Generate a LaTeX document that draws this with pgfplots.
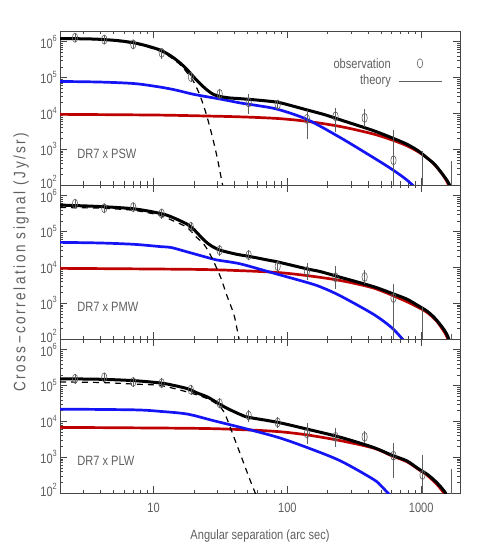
\documentclass[border=0pt]{standalone}
\usepackage{fontspec}
\setmainfont[FakeStretch=0.82]{Liberation Sans}
\usepackage{graphicx}
\usepackage{pgfplots}
\pgfplotsset{compat=1.18}
\definecolor{txtgray}{RGB}{95,95,95}
\definecolor{axgray}{RGB}{70,70,70}
\definecolor{dred}{RGB}{190,0,0}
\definecolor{pblue}{RGB}{20,20,245}
\newcommand\lbl{\fontsize{13.5bp}{15bp}\selectfont}
\newcommand\tp[1]{10\raisebox{0.5em}{\fontsize{9bp}{9bp}\selectfont #1}}
\pgfplotsset{every axis/.append style={
  xmode=log, ymode=log, xmin=2, xmax=1950, ymin=100, ymax=2e6,
  width=400bp, height=154bp, scale only axis,
  axis line style={draw=axgray, line width=0.8bp},
  tick style={axgray, line width=0.6bp},
  major tick length=7bp, minor tick length=3.5bp,
  tick align=inside, xtick pos=both, ytick pos=both,
  xticklabel pos=lower, yticklabel pos=left,
  xtick={10,100,1000},
  minor xtick={2,3,4,5,6,7,8,9,20,30,40,50,60,70,80,90,200,300,400,500,600,700,800,900},
  ytick={100,1000,10000,100000,1000000},
  yticklabels={\raisebox{6bp}{\tp{2}},\tp{3},\tp{4},\tp{5},\tp{6}},
  minor ytick={200,300,400,500,600,700,800,900,2000,3000,4000,5000,6000,7000,8000,9000,20000,30000,40000,50000,60000,70000,80000,90000,200000,300000,400000,500000,600000,700000,800000,900000},
  ticklabel style={font=\lbl, text=txtgray},
  yticklabel style={anchor=east, inner sep=0pt, xshift=-3bp},
  xticklabel style={anchor=north, inner sep=0pt, yshift=-10bp},
}, 
curveblk/.style={black, line width=3bp, smooth, tension=0.5, no markers},
curveblu/.style={pblue, line width=2.7bp, smooth, tension=0.5, no markers},
curverd/.style={dred, line width=2.7bp, smooth, tension=0.5, no markers},
curvedsh/.style={black, line width=1.2bp, dash pattern=on 6bp off 5bp, smooth, tension=0.5, no markers},
curveobs/.style={only marks, mark=o, mark size=4.6bp,
  mark options={xscale=0.58, draw=txtgray, line width=0.6bp, fill=none},
  error bars/y dir=both, error bars/y explicit,
  error bars/error bar style={txtgray, line width=0.6bp},
  error bars/error mark options={txtgray, line width=0.6bp, mark size=3bp}},
}
\begin{document}
\begin{tikzpicture}
\useasboundingbox (-60bp,31bp) rectangle (418bp,-523bp);
% ---------------- Panel 1: PSW
\begin{axis}[at={(0,0)}, anchor=north west, xticklabels={}]
\addplot[curverd] coordinates {(2,9400) (10,9000) (20,8600) (44.7,8000) (84.7,7200) (140,6000) (249,4300) (440,2650) (621,1750) (800,1200) (1000,750) (1200,440) (1400,230) (1550,130) (1620,90)};
\addplot[curveblu] coordinates {(2,78000) (4,75000) (7.2,68000) (11.3,54000) (15,44000) (20,34000) (31.7,25000) (44.7,19500) (60,16500) (84.7,13000) (140,6800) (249,2100) (440,580) (600,280) (760,150) (861,100) (900,85)};
\addplot[curveblk] coordinates {(2,1.23e6) (3,1.21e6) (4,1.17e6) (5.5,1.07e6) (7.2,9.3e5) (9,7.6e5) (11.3,5.8e5) (13.5,4.0e5) (16,2.46e5) (18,1.6e5) (20,1.03e5) (22.5,6.5e4) (25.3,4.4e4) (28,3.4e4) (31.7,2.95e4) (37,2.7e4) (44.7,2.57e4) (60,2.35e4) (84.7,2.04e4) (110,1.6e4) (140,1.25e4) (190,9200) (249,6600) (330,4700) (440,3300) (600,2100) (781,1380) (950,900) (1100,580) (1250,390) (1380,250) (1500,165) (1580,125) (1630,100) (1650,70) (1660,30)};
\addplot[curvedsh] coordinates {(2,1.2e6) (4,1.14e6) (7,9e5) (10,6.4e5) (12,4.8e5) (14,3.3e5) (16,2.2e5) (18,1.3e5) (20,7.5e4) (22,3.5e4) (24,1.4e4) (26,5000) (28,1700) (30,550) (32,160) (33,90)};
\addplot[curveobs] table[x=x, y=y, y error plus=ep, y error minus=em] {
x y ep em
2.59 1.30e6 1.2e5 1.2e5
4.28 1.15e6 1.0e5 1.0e5
7.05 8.5e5 8e4 8e4
11.5 4.9e5 8e4 8e4
19.0 1.05e5 1.5e4 1.5e4
31.2 3.5e4 5e3 5e3
51.4 2.0e4 8e3 8e3
84.7 1.77e4 2e3 2e3
140 7.0e3 3.5e3 4.6e3
229 8.3e3 3.7e3 4.7e3
378 7.5e3 3.2e3 2.4e3
621 490 2300 480
1023 10 720 0
1675 10 370 0
};
\node[font=\lbl, text=txtgray, anchor=west, inner sep=0pt] at (rel axis cs:0.043,0.2) {DR7 x PSW};
\node[font=\lbl, text=txtgray, anchor=east, inner sep=0pt] at (rel axis cs:0.8275,0.79) {observation};
\node[font=\lbl, text=txtgray, anchor=east, inner sep=0pt] at (rel axis cs:0.8275,0.673) {theory};
\draw[txtgray, line width=0.6bp] (rel axis cs:0.9,0.79) ellipse [x radius=2.7bp, y radius=4.6bp];
\draw[txtgray, line width=0.6bp] (rel axis cs:0.8475,0.673) -- (rel axis cs:0.955,0.673);
\end{axis}
% ---------------- Panel 2: PMW
\begin{axis}[at={(0,-154bp)}, anchor=north west, xticklabels={}]
\addplot[curverd] coordinates {(2,9400) (20,8800) (44.7,8100) (84.7,7200) (140,5900) (249,4300) (440,2650) (692,1350) (900,850) (1100,560) (1300,320) (1500,150) (1590,95)};
\addplot[curveblu] coordinates {(2,50000) (4,48000) (7.2,44000) (11.3,38000) (13.5,36000) (17.9,27000) (28,17000) (31.7,15500) (44.7,12500) (74.9,7300) (140,3800) (177,2850) (249,1600) (440,490) (600,210) (724,100) (760,80)};
\addplot[curveblk] coordinates {(2,5.5e5) (4,5.0e5) (7.2,4.3e5) (11.3,3.2e5) (13.5,2.6e5) (17.9,1.6e5) (20,1.15e5) (23.8,5.8e4) (27,4.0e4) (31.7,3.0e4) (42.3,2.3e4) (51,2.05e4) (74.9,1.55e4) (84.7,1.42e4) (140,9100) (177,7600) (249,5300) (440,2900) (600,1900) (781,1300) (950,850) (1100,610) (1250,400) (1380,260) (1500,170) (1570,125) (1600,105) (1615,60)};
\addplot[curvedsh] coordinates {(2,4.7e5) (4,4.5e5) (7.2,3.9e5) (11.3,2.8e5) (14,2.0e5) (17.9,1.3e5) (20.5,7.5e4) (23.8,4.4e4) (27,2.0e4) (31.7,5300) (35,1800) (39.8,490) (42.3,170) (43.5,100) (44,80)};
\addplot[curveobs] table[x=x, y=y, y error plus=ep, y error minus=em] {
x y ep em
2.59 6.0e5 5e4 5e4
4.28 4.5e5 5e4 5e4
7.05 4.8e5 5e4 5e4
11.5 3.2e5 4e4 4e4
19.0 1.35e5 2e4 2e4
31.2 3.0e4 4e3 4e3
51.4 2.2e4 3e3 3e3
84.7 1.08e4 2e3 2e3
140 7.8e3 3.2e3 2.5e3
229 5.3e3 3.8e3 2.2e3
378 5.4e3 1.5e3 1.2e3
621 1400 1500 1390
1023 10 670 0
1675 10 105 0
};
\node[font=\lbl, text=txtgray, anchor=west, inner sep=0pt] at (rel axis cs:0.043,0.21) {DR7 x PMW};
\end{axis}
% ---------------- Panel 3: PLW
\begin{axis}[at={(0,-308bp)}, anchor=north west, xticklabels={10,100,1000},
  xlabel={Angular separation (arc sec)},
  xlabel style={font=\lbl, text=txtgray, at={(axis description cs:0.5,0)}, anchor=north, inner sep=0pt, yshift=-37bp}]
\addplot[curverd] coordinates {(2,6800) (20,6400) (44.7,5900) (84.7,5200) (140,4200) (249,2900) (440,1800) (600,1100) (781,750) (950,460) (1100,320) (1300,180) (1450,110) (1510,90)};
\addplot[curveblu] coordinates {(2,22000) (7.2,21000) (11.3,19000) (17.9,16000) (28,10500) (44.7,6800) (84.7,3600) (140,1870) (249,790) (440,240) (500,160) (564,100) (590,85)};
\addplot[curveblk] coordinates {(2,1.55e5) (4,1.5e5) (7.2,1.37e5) (11.3,1.18e5) (14,1.02e5) (17.9,8.2e4) (21,6.3e4) (25.3,4.8e4) (30,3.3e4) (35.6,2.3e4) (44.7,1.55e4) (51.4,1.3e4) (84.7,9400) (140,6100) (249,3600) (440,1870) (600,1150) (781,790) (950,480) (1100,340) (1250,230) (1380,158) (1480,115) (1520,100) (1535,60)};
\addplot[curvedsh] coordinates {(2,1.26e5) (4,1.22e5) (7.2,1.1e5) (11.3,1.0e5) (17.9,6.6e4) (25.3,4.3e4) (31.7,2.5e4) (35,1.3e4) (40,3500) (45,1100) (50,380) (54,180) (57,110) (58,90)};
\addplot[curveobs] table[x=x, y=y, y error plus=ep, y error minus=em] {
x y ep em
2.59 1.55e5 2e4 2e4
4.28 1.7e5 2e4 2e4
7.05 1.26e5 1.5e4 1.5e4
11.5 1.17e5 1.5e4 1.5e4
19.0 7.7e4 1e4 1e4
31.2 3.2e4 4e3 4e3
51.4 1.45e4 2.5e3 2.5e3
84.7 9.4e3 1.5e3 1.5e3
140 4.6e3 2.6e3 1.7e3
229 3.7e3 1.8e3 1.4e3
378 3.7e3 8e2 6e2
621 1.1e3 9e2 7.8e2
1023 320 630 310
1675 10 380 0
};
\node[font=\lbl, text=txtgray, anchor=west, inner sep=0pt] at (rel axis cs:0.043,0.21) {DR7 x PLW};
\end{axis}
\node[rotate=90, text=txtgray, inner sep=0pt] at (-39bp,-231bp)
  {\resizebox{259bp}{!}{\fontsize{11.8bp}{13bp}\selectfont\addfontfeature{LetterSpace=15}Cross−correlation signal (Jy/sr)}};
\end{tikzpicture}
\end{document}
